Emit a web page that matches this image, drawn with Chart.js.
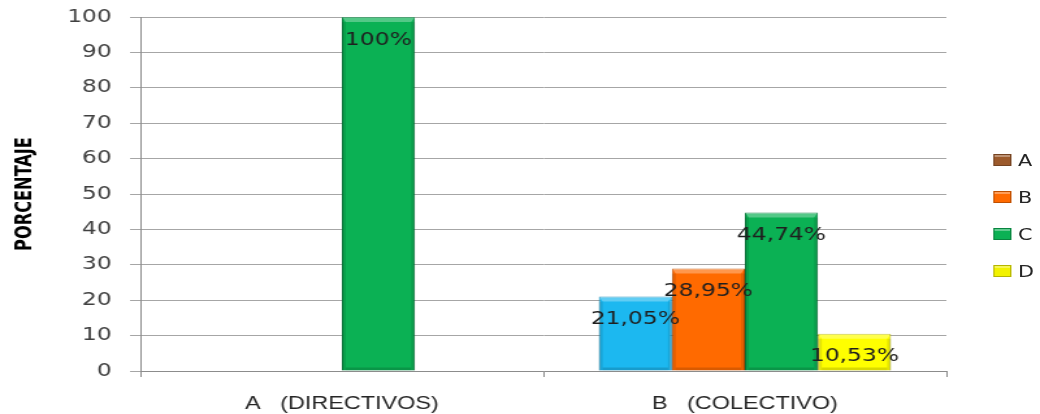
<!DOCTYPE html>
<html>
<head>
<meta charset="utf-8">
<script src="https://cdn.jsdelivr.net/npm/chart.js@4"></script>
<style>
  html, body { margin: 0; padding: 0; background: #fff; overflow: hidden; }
  #stage { position: relative; width: 800px; height: 414px; transform: scaleX(1.3); transform-origin: 0 0; }
  #legend { position: absolute; left: 764px; top: 0; font-family: "DejaVu Sans", sans-serif; font-size: 16px; color: #262626; }
  .item { position: absolute; left: 0; height: 18px; display: flex; align-items: center; white-space: nowrap; }
  .box { width: 14px; height: 12px; margin-right: 5px; box-sizing: border-box; border: 1px solid rgba(0,0,0,0.25); box-shadow: inset 0 2px 0 rgba(255,255,255,0.35); }
</style>
</head>
<body>
<div id="stage">
  <canvas id="myChart" width="800" height="414"></canvas>
  <div id="legend"></div>
</div>
<script>
'use strict'

//data
const categories = ['A   (DIRECTIVOS)', 'B   (COLECTIVO)'];
const seriesNames = ['A', 'B', 'C', 'D'];
const serieA = [null, 21.05];
const serieB = [null, 28.95];
const serieC = [100, 44.74];
const serieD = [null, 10.53];
const yTicks = [0, 10, 20, 30, 40, 50, 60, 70, 80, 90, 100];

//colors
const legendColors = ['#9c5a2c', '#ff6a00', '#0bb154', '#f2f200'];
const barColors = [
  ['#9c5a2c', '#1cb8f0'],
  ['#ff6a00', '#ff6a00'],
  ['#0bb154', '#0bb154'],
  ['#ffff00', '#ffff00']
];
const borderColors = ['#1287b3', '#c25000', '#067a3a', '#b3b300'];

function fmt(v) {
  if (Number.isInteger(v)) return v + '%';
  return v.toFixed(2).replace('.', ',') + '%';
}

// light top edge and darker sides, like the bevelled bars
const bevel = {
  id: 'bevel',
  afterDatasetDraw(chart, args) {
    const ctx = chart.ctx;
    ctx.save();
    args.meta.data.forEach((bar, j) => {
      if (args.meta._dataset.data[j] == null) return;
      const p = bar.getProps(['x', 'y', 'width', 'base'], true);
      const l = p.x - p.width / 2, r = p.x + p.width / 2, t = p.y, b = p.base;
      const e = 3, h = 5;
      ctx.fillStyle = 'rgba(255,255,255,0.3)';
      ctx.beginPath();
      ctx.moveTo(l, t); ctx.lineTo(r, t); ctx.lineTo(r - e, t + h); ctx.lineTo(l + e, t + h);
      ctx.closePath(); ctx.fill();
      ctx.fillStyle = 'rgba(0,0,0,0.1)';
      ctx.fillRect(l, t + h, e, b - t - h);
      ctx.fillRect(r - e, t + h, e, b - t - h);
      ctx.fillStyle = 'rgba(0,0,0,0.15)';
      ctx.fillRect(l + e, b - 3, r - l - 2 * e, 3);
    });
    ctx.restore();
  }
};

const barLabels = {
  id: 'barLabels',
  afterDatasetsDraw(chart) {
    const ctx = chart.ctx;
    ctx.save();
    ctx.font = '18px "DejaVu Sans", sans-serif';
    ctx.fillStyle = '#1f1f1f';
    ctx.textAlign = 'center';
    ctx.textBaseline = 'middle';
    chart.data.datasets.forEach((ds, i) => {
      chart.getDatasetMeta(i).data.forEach((bar, j) => {
        const v = ds.data[j];
        if (v == null) return;
        ctx.fillText(fmt(v), bar.x, bar.y + 23);
      });
    });
    ctx.restore();
  }
};

let allData = [serieA, serieB, serieC, serieD];
let datasets = [];
for (let i = 0; i < seriesNames.length; i++) {
  datasets.push({
    label: seriesNames[i],
    data: allData[i],
    backgroundColor: barColors[i],
    borderColor: borderColors[i],
    borderWidth: 1,
    categoryPercentage: 0.725,
    barPercentage: 1.0
  });
}

const config = {
  type: 'bar',
  data: { labels: categories, datasets: datasets },
  options: {
    responsive: false,
    animation: false,
    layout: { padding: { top: 17, right: 72, left: 0, bottom: 0 } },
    plugins: { legend: { display: false }, tooltip: { enabled: false } },
    scales: {
      x: {
        afterFit: s => { s.height = 43; s.paddingLeft = 0; s.paddingRight = 0; },
        grid: { offset: true, drawOnChartArea: false, tickLength: 6, color: '#8c8c8c' },
        border: { color: '#8c8c8c' },
        ticks: { color: '#262626', font: { family: 'Liberation Sans', size: 18 }, padding: 16 }
      },
      y: {
        min: 0,
        max: 100,
        afterFit: s => { s.width = 108; s.paddingTop = 0; s.paddingBottom = 0; },
        afterBuildTicks: s => { s.ticks = yTicks.map(v => ({ value: v })); },
        ticks: { color: '#404040', font: { family: 'DejaVu Sans', size: 18 }, padding: 14 },
        grid: { color: '#a6a6a6', tickLength: 8 },
        border: { color: '#8c8c8c' },
        title: {
          display: true,
          text: 'PORCENTAJE',
          color: '#000',
          font: { family: '"Liberation Sans Narrow", "DejaVu Sans Condensed", sans-serif', size: 18, weight: 'bold' },
          padding: { top: 9, bottom: 0 }
        }
      }
    }
  },
  plugins: [bevel, barLabels]
};

new Chart(document.getElementById('myChart'), config);

//legend
const legend = document.getElementById('legend');
const legendY = [151, 188, 225, 262];
for (let i = 0; i < seriesNames.length; i++) {
  let item = document.createElement('div');
  item.className = 'item';
  item.style.top = legendY[i] + 'px';
  item.innerHTML = '<span class="box" style="background:' + legendColors[i] + '"></span>' + seriesNames[i];
  legend.appendChild(item);
}
</script>
</body>
</html>
